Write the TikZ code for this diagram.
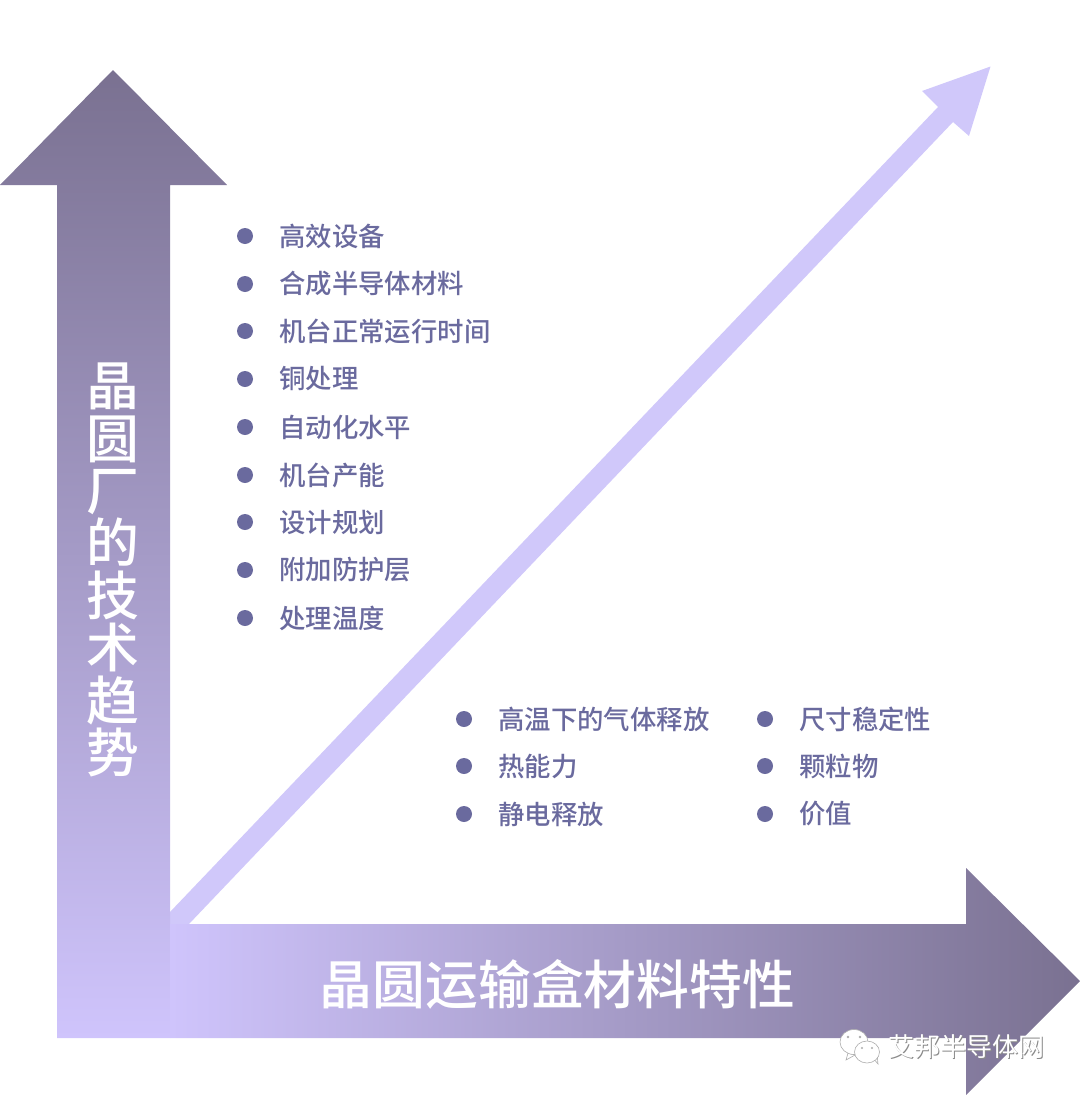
\documentclass[tikz,border=0pt]{standalone}
\usepackage{fontspec}
\setmainfont{Noto Sans CJK SC}
\newfontfamily\medfont{Noto Sans CJK SC Medium}
\definecolor{darkend}{HTML}{7A7191}
\definecolor{lightend}{HTML}{CFC4FC}
\definecolor{diag}{HTML}{D0C8FA}
\definecolor{listcol}{HTML}{6A6A9E}
\definecolor{shadowcol}{HTML}{8A8A8A}
\tikzset{
  x=1pt,y=-1pt,
  dot/.style={circle,fill=listcol,draw=none,minimum size=16pt,inner sep=0pt},
  item/.style={anchor=west,inner sep=0pt,text=listcol,font=\fontsize{26.4}{30}\selectfont\medfont},
  axislabel/.style={text=white,inner sep=0pt,font=\fontsize{52.8}{52.4}\selectfont\medfont},
  marktext/.style={inner sep=0pt,font=\fontsize{26}{30}\selectfont},
  bubble/.style={fill=white,draw=shadowcol!70,line width=0.6pt},
  eye/.style={fill=shadowcol!70,draw=none}
}
\newcommand{\listrow}[5]{%
  \node[dot] (d#1) at (#2,#4) {};
  \node[item] (t#1) at (#3,#4) {#5};}
\begin{document}
\begin{tikzpicture}
\useasboundingbox (0,0) rectangle (1080,1095);
% diagonal arrow
\fill[diag] (170,912) -- (938,107) -- (922,91) -- (990.5,66.5) -- (969,136) -- (953,122) -- (189,924) -- (170,924) -- cycle;
% vertical arrow
\shade[top color=darkend,bottom color=lightend] (113,70) -- (227,185) -- (170,185) -- (170,1038) -- (57,1038) -- (57,185) -- (0,185) -- cycle;
% horizontal arrow
\shade[left color=lightend,right color=darkend] (170,924) -- (966,924) -- (966,868) -- (1080,981) -- (966,1095) -- (966,1038) -- (170,1038) -- cycle;
% axis labels
\node[axislabel,align=center] (ylabel) at (113,570) {晶\\圆\\厂\\的\\技\\术\\趋\\势};
\node[axislabel] (xlabel) at (557.5,984) {晶圆运输盒材料特性};
% first list
\listrow{a}{245}{279}{236}{高效设备}
\listrow{b}{245}{279}{284}{合成半导体材料}
\listrow{c}{245}{279}{331}{机台正常运行时间}
\listrow{d}{245}{279}{379}{铜处理}
\listrow{e}{245}{279}{427}{自动化水平}
\listrow{f}{245}{279}{475}{机台产能}
\listrow{g}{245}{279}{522}{设计规划}
\listrow{h}{245}{279}{570}{附加防护层}
\listrow{i}{245}{279}{618}{处理温度}
% second list
\listrow{j}{464}{498}{719}{高温下的气体释放}
\listrow{k}{464}{498}{766}{热能力}
\listrow{l}{464}{498}{814}{静电释放}
% third list
\listrow{m}{765}{799}{719}{尺寸稳定性}
\listrow{n}{765}{799}{766}{颗粒物}
\listrow{o}{765}{799}{814}{价值}
% watermark
\path[bubble] (848,1053) -- (846,1060) -- (855,1055) -- cycle;
\path[bubble] (854,1042) ellipse [x radius=14,y radius=12.5];
\path[eye] (848,1037) circle (1.4) (860,1037) circle (1.4);
\path[bubble] (873,1058) -- (878,1064) -- (877,1054) -- cycle;
\path[bubble] (867,1052) ellipse [x radius=12.5,y radius=11];
\path[eye] (862,1048) circle (1.1) (872,1048) circle (1.1);
\node[marktext,text=shadowcol] (markshadow) at (967,1048) {艾邦半导体网};
\node[marktext,text=white] (mark) at (966,1047) {艾邦半导体网};
\end{tikzpicture}
\end{document}
